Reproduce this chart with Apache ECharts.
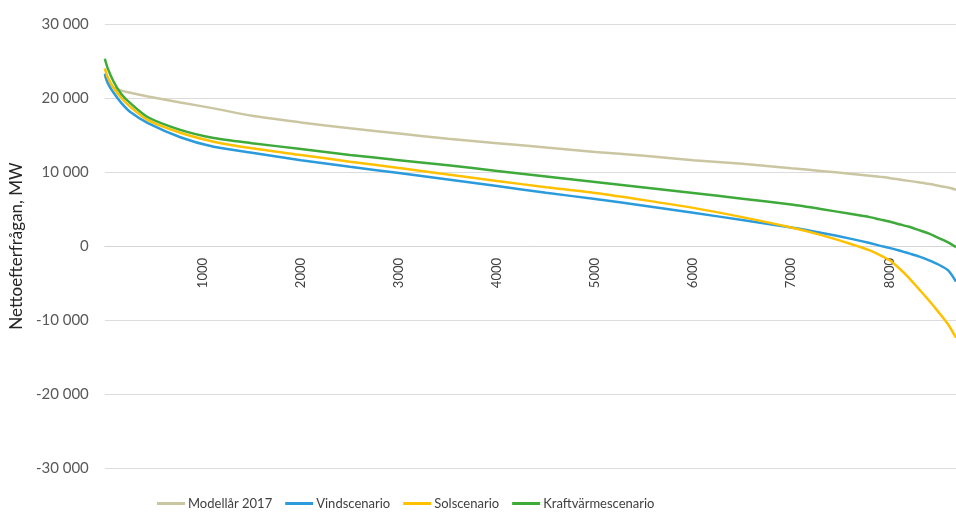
<!DOCTYPE html>
<html>
<head>
<meta charset="utf-8">
<script src="https://cdn.jsdelivr.net/npm/echarts@6/dist/echarts.min.js"></script>
<style>html,body{margin:0;padding:0;background:#fff}#c{width:956px;height:512px}</style>
</head>
<body>
<div id="c"></div>
<script>
const hours = [0, 30, 90, 170, 260, 440, 770, 1110, 1500, 2000, 2500, 3000, 3500, 4000, 4500, 5000, 5500, 6000, 6500, 7000, 7300, 7600, 7800, 7900, 8000, 8100, 8200, 8300, 8400, 8500, 8600, 8680];
const modellar2017 = [23000, 22200, 21400, 21000, 20700, 20200, 19400, 18600, 17600, 16700, 15900, 15200, 14500, 13900, 13300, 12700, 12200, 11600, 11100, 10500, 10150, 9750, 9500, 9350, 9200, 9000, 8800, 8600, 8400, 8150, 7900, 7600];
const vindscenario = [23300, 22000, 20700, 19300, 18100, 16600, 14700, 13400, 12600, 11600, 10700, 9860, 9000, 8100, 7200, 6350, 5450, 4500, 3500, 2500, 1800, 1000, 400, 50, -250, -600, -1000, -1400, -1900, -2500, -3300, -4800];
const solscenario = [24000, 22800, 21350, 20000, 18800, 17000, 15300, 14100, 13200, 12300, 11400, 10540, 9650, 8780, 7950, 7160, 6200, 5150, 3900, 2500, 1500, 300, -600, -1200, -1900, -3000, -4300, -5800, -7300, -8900, -10600, -12400];
const kraftvarmescenario = [25300, 24000, 22200, 20500, 19300, 17400, 15700, 14600, 13900, 13100, 12300, 11600, 10900, 10150, 9400, 8650, 7900, 7160, 6400, 5600, 5000, 4350, 3900, 3600, 3300, 2950, 2600, 2150, 1700, 1100, 500, -150];
const seriesNames = ['Modellår 2017', 'Vindscenario', 'Solscenario', 'Kraftvärmescenario'];
const seriesValues = [modellar2017, vindscenario, solscenario, kraftvarmescenario];
const colors = ['#CBC6A2', '#2B9BDB', '#FFC000', '#3DAA3A'];
const yTicks = [-30000, -20000, -10000, 0, 10000, 20000, 30000];

const FONT = 'Lato';
function fmt(v) {
  const s = Math.abs(v).toString().replace(/\B(?=(\d{3})+(?!\d))/g, ' ');
  return (v < 0 ? '-' : '') + s;
}

const GRID_TOP = 24, GRID_BOTTOM = 44, H = 512;
const plotH = H - GRID_TOP - GRID_BOTTOM;
const yMin = yTicks[0], yMax = yTicks[yTicks.length - 1];
// move the x axis (line + labels) up to the zero value of the y axis
const zeroOffset = -plotH * (0 - yMin) / (yMax - yMin);

const chart = echarts.init(document.getElementById('c'), null, {renderer: 'canvas'});
chart.setOption({
  animation: false,
  color: colors,
  textStyle: {fontFamily: FONT},
  grid: {left: 104, right: 0, top: GRID_TOP, bottom: GRID_BOTTOM, containLabel: false},
  legend: {
    left: 152, top: 492,
    itemWidth: 28, itemHeight: 3, itemGap: 13,
    icon: 'rect',
    textStyle: {fontFamily: FONT, fontSize: 13, color: '#404040', padding: [0, 0, 0, -2]},
    data: seriesNames
  },
  xAxis: {
    type: 'value', min: 0, max: 8680, interval: 1000,
    offset: zeroOffset,
    axisLine: {onZero: false, lineStyle: {color: '#D4D4D4', width: 1}},
    axisTick: {show: false},
    splitLine: {show: false},
    axisLabel: {
      rotate: 90, margin: 12, fontFamily: FONT, fontSize: 13, color: '#404040',
      showMaxLabel: false, showMinLabel: false,
      formatter: v => (v === 0 ? '' : String(v))
    }
  },
  yAxis: {
    type: 'value', min: yMin, max: yMax, interval: 10000,
    name: 'Nettoefterfrågan, MW', nameLocation: 'middle', nameGap: 75,
    nameTextStyle: {fontFamily: FONT, fontSize: 17, color: '#262626'},
    axisLine: {show: false}, axisTick: {show: false},
    splitLine: {lineStyle: {color: '#DCDCDC', width: 1}},
    axisLabel: {margin: 16, fontFamily: FONT, fontSize: 15, color: '#595959', formatter: fmt}
  },
  series: seriesNames.map((n, k) => ({
    name: n, type: 'line', showSymbol: false, smooth: 0.25,
    lineStyle: {width: 2.5, color: colors[k]},
    itemStyle: {color: colors[k]},
    data: hours.map((h, i) => [h, seriesValues[k][i]]),
    z: k === 0 ? 1 : 2 + k
  }))
});
</script>
</body>
</html>
